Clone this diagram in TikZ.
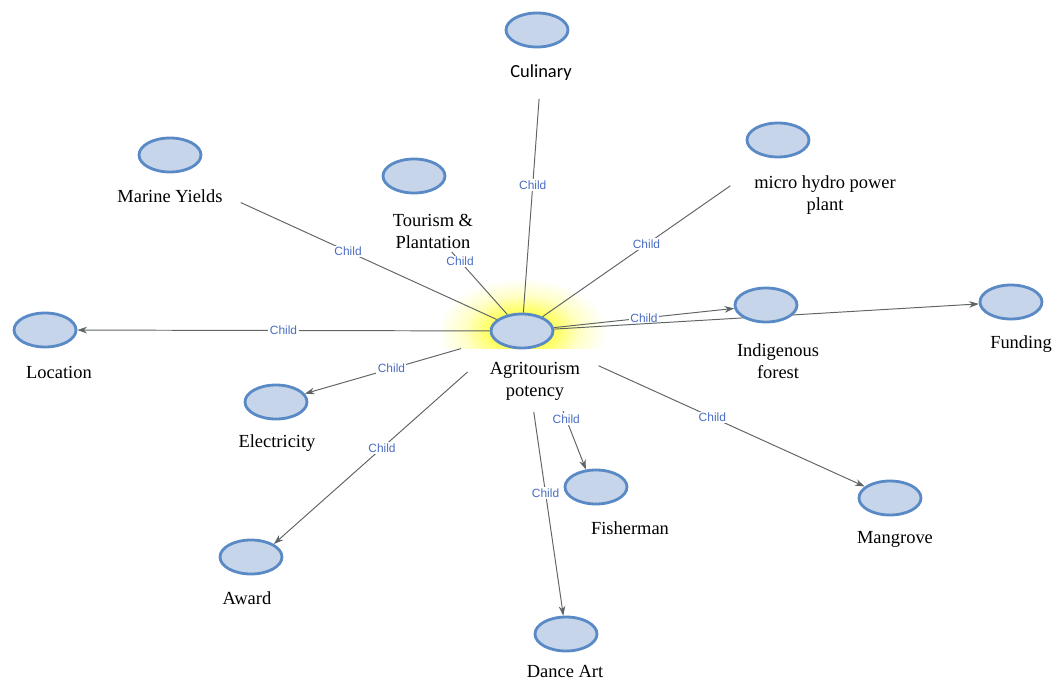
\documentclass[tikz,border=0pt]{standalone}
\usepackage{fontspec}
\setmainfont{Liberation Serif}
\newfontfamily\calfont{Carlito}
\newfontfamily\tagfont{Liberation Sans}
\usetikzlibrary{shapes.geometric,arrows.meta,backgrounds}

\definecolor{bubfill}{HTML}{C6D5EA}
\definecolor{bubline}{HTML}{5A8AC6}
\definecolor{linkgray}{HTML}{5F6464}
\definecolor{tagblue}{HTML}{4A6CC2}
\pgfdeclareradialshading{hubglow}{\pgfpoint{0bp}{0bp}}{%
	color(0bp)=(yellow!85); color(10bp)=(yellow!60); color(17bp)=(yellow!22); color(25bp)=(white); color(50bp)=(white)}

\begin{document}
\begin{tikzpicture}[x=0.02cm,y=-0.02cm,
	bub/.style={ellipse,draw=bubline,fill=bubfill,line width=1.6pt,
		minimum width=1.24cm,minimum height=0.68cm,inner sep=0pt},
	lbl/.style={font=\fontsize{10.5}{12.5}\selectfont,align=center,inner sep=2pt},
	spoke/.style={draw=linkgray,line width=0.55pt},
	arr/.style={spoke,-{Stealth[length=5.5pt,width=3.8pt]}},
	childtag/.style={font=\fontsize{6.8}{7}\tagfont,text=tagblue,fill=white,inner sep=0.8pt}]
	
	\useasboundingbox (0,0) rectangle (1059,679);
	
	% centre
	\node[bub] (hub) at (522, 331) {};
	\node[lbl] (hubL) at (535, 381) {Agritourism\\potency};
	
	% children
	\node[bub] (cul) at (537, 30)  {};
	\node[lbl,font=\fontsize{10.5}{12.5}\calfont] (culL) at (541, 73) {Culinary};
	\node[bub] (mar) at (170, 155) {};
	\node[lbl] (marL) at (170, 196) {Marine Yields};
	\node[bub] (tou) at (414, 176) {};
	\node[lbl] (touL) at (433, 231) {Tourism \&\\Plantation};
	\node[bub] (mhp) at (778, 140) {};
	\node[lbl] (mhpL) at (825, 195) {micro hydro power\\plant};
	\node[bub] (loc) at (45, 330)  {};
	\node[lbl] (locL) at (59, 372) {Location};
	\node[bub] (frs) at (766, 305) {};
	\node[lbl] (frsL) at (778, 361) {Indigenous\\forest};
	\node[bub] (fun) at (1011, 302) {};
	\node[lbl] (funL) at (1021, 344) {Funding};
	\node[bub] (ele) at (276, 402) {};
	\node[lbl] (eleL) at (277, 443) {Electricity};
	\node[bub] (awd) at (251, 557) {};
	\node[lbl] (awdL) at (247, 598) {Award};
	\node[bub] (fsh) at (596, 487) {};
	\node[lbl] (fshL) at (630, 528) {Fisherman};
	\node[bub] (man) at (890, 498) {};
	\node[lbl] (manL) at (895, 539) {Mangrove};
	\node[bub] (dan) at (566, 634) {};
	\node[lbl] (danL) at (565, 671) {Dance Art};
	
	\begin{scope}[on background layer]
		% glow round the centre
		\begin{scope}
			\clip (400, 250) rectangle (650, 348);
			\shade[shading=hubglow] (522, 331) ellipse (1.7cm and 1.05cm);
		\end{scope}
		
		\path (hub) edge[spoke,shorten >=8pt] node[childtag,pos=.56] {Child} (culL);
		\path (hub) edge[spoke,shorten >=9pt] node[childtag,pos=.55] {Child} (marL.east);
		\path (hub) edge[spoke] node[childtag,pos=.85] {Child} (touL);
		\path (hub) edge[spoke,shorten >=14pt] node[childtag,pos=.5] {Child} (mhpL.north west);
		\path (hub) edge[arr] node[childtag,pos=.5] {Child} (loc);
		\path (hub) edge[arr] node[childtag,pos=.5] {Child} (frs);
		\path (hub) edge[arr] node[childtag,pos=.5] {Child} (fun);
		\path (hub) edge[arr,shorten <=19pt] node[childtag,pos=.54] {Child} (ele);
		\path (hub.south west) edge[arr,shorten <=24pt] node[childtag,pos=.52] {Child} (awd.north east);
		\path (hub.-45) edge[arr,shorten <=39pt] node[childtag,pos=.59] {Child} (fsh.120);
		\path (hub) edge[arr,shorten <=36pt] node[childtag,pos=.54] {Child} (dan);
		\path (hub) edge[arr,shorten <=32pt] node[childtag,pos=.52] {Child} (man);
	\end{scope}
	
\end{tikzpicture}
\end{document}
